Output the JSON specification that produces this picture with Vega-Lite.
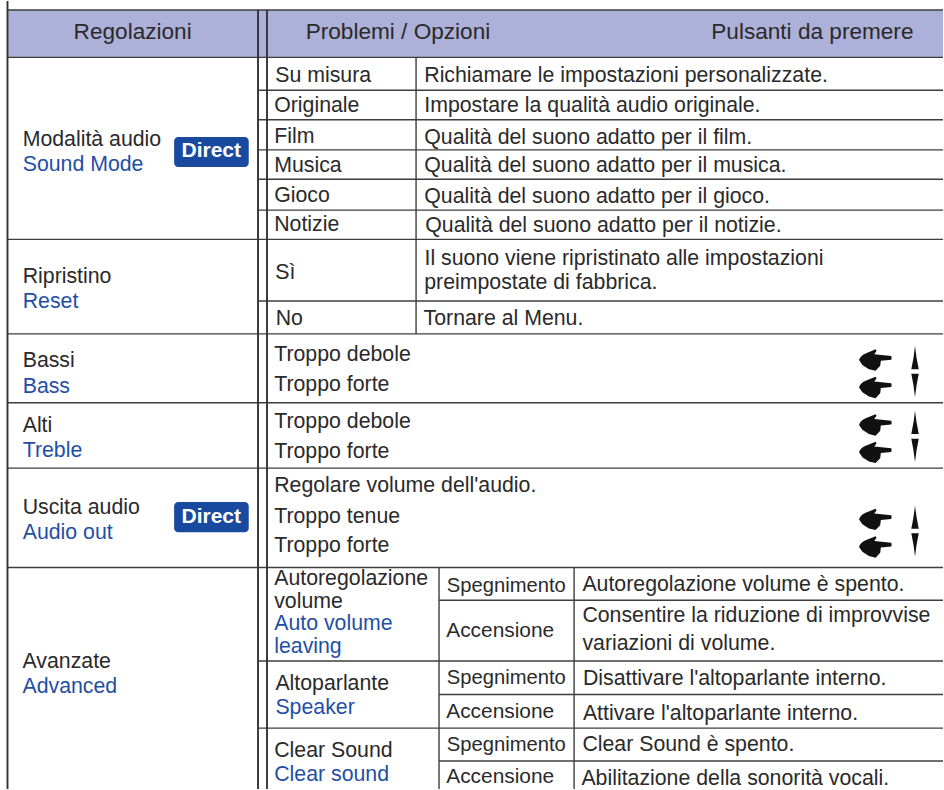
{"$schema":"https://vega.github.io/schema/vega-lite/v6.json","width":944,"height":790,"padding":0,"autosize":{"type":"fit","contains":"padding"},"background":"white","config":{"view":{"stroke":null}},
"datasets":{
"header":[{"x":7.5,"x2":944,"y":9,"y2":56.5}],
"badges":[{"x":174.3,"x2":249,"y":136.3,"y2":166.3},{"x":174.3,"x2":249,"y":502.3,"y2":532.7}],
"mainLines":[{"x":7.5,"x2":7.5,"y":0,"y2":790},{"x":258.3,"x2":258.3,"y":9,"y2":790},{"x":267.3,"x2":267.3,"y":9,"y2":790}],
"lines":[
{"x":416.5,"x2":416.5,"y":56.5,"y2":333.7},{"x":439.5,"x2":439.5,"y":568,"y2":790},{"x":574.7,"x2":574.7,"y":568,"y2":790},
{"x":7.5,"x2":944,"y":9,"y2":9},{"x":7.5,"x2":944,"y":56.5,"y2":56.5},{"x":258.3,"x2":944,"y":89.5,"y2":89.5},{"x":258.3,"x2":944,"y":119,"y2":119},{"x":258.3,"x2":944,"y":149.3,"y2":149.3},{"x":258.3,"x2":944,"y":178.7,"y2":178.7},{"x":258.3,"x2":944,"y":209.7,"y2":209.7},{"x":7.5,"x2":944,"y":239,"y2":239},{"x":258.3,"x2":944,"y":300.7,"y2":300.7},{"x":7.5,"x2":944,"y":333.7,"y2":333.7},{"x":7.5,"x2":944,"y":402.7,"y2":402.7},{"x":7.5,"x2":944,"y":468.3,"y2":468.3},{"x":7.5,"x2":944,"y":568,"y2":568},
{"x":439.5,"x2":944,"y":600.7,"y2":600.7},{"x":258.3,"x2":944,"y":661.7,"y2":661.7},{"x":439.5,"x2":944,"y":695.3,"y2":695.3},{"x":258.3,"x2":944,"y":729,"y2":729},{"x":439.5,"x2":944,"y":762,"y2":762}],
"heads":[{"x":73.7,"y":37.7,"text":"Regolazioni"},{"x":306,"y":37.7,"text":"Problemi / Opzioni"},{"x":712,"y":37.7,"text":"Pulsanti da premere"}],
"offOptions":[{"x":447.3,"y":592.7,"text":"Spegnimento"},{"x":447.3,"y":684.3,"text":"Spegnimento"},{"x":447.3,"y":752.3,"text":"Spegnimento"}],
"onOptions":[{"x":446.7,"y":637.3,"text":"Accensione"},{"x":446.7,"y":719.3,"text":"Accensione"},{"x":446.7,"y":784.3,"text":"Accensione"}],
"labels":[
{"x":22.7,"y":145.7,"text":"Modalità audio","kind":"it"},{"x":22.7,"y":170,"text":"Sound Mode","kind":"en"},{"x":22.7,"y":283,"text":"Ripristino","kind":"it"},{"x":22.7,"y":307.7,"text":"Reset","kind":"en"},{"x":22.7,"y":367.3,"text":"Bassi","kind":"it"},{"x":22.7,"y":392.7,"text":"Bass","kind":"en"},{"x":22.7,"y":431.7,"text":"Alti","kind":"it"},{"x":22.7,"y":456.7,"text":"Treble","kind":"en"},{"x":22.7,"y":514,"text":"Uscita audio","kind":"it"},{"x":22.7,"y":539,"text":"Audio out","kind":"en"},{"x":22.5,"y":669,"text":"Avanzate","kind":"it"},{"x":22.5,"y":694,"text":"Advanced","kind":"en"},
{"x":275.5,"y":81.7,"text":"Su misura","kind":"it"},{"x":274.5,"y":111.7,"text":"Originale","kind":"it"},{"x":274.5,"y":142.3,"text":"Film","kind":"it"},{"x":274.5,"y":171.3,"text":"Musica","kind":"it"},{"x":274.5,"y":202,"text":"Gioco","kind":"it"},{"x":274.5,"y":231,"text":"Notizie","kind":"it"},{"x":275.5,"y":278.7,"text":"Sì","kind":"it"},{"x":276,"y":325,"text":"No","kind":"it"},
{"x":424.7,"y":81.7,"text":"Richiamare le impostazioni personalizzate.","kind":"it"},{"x":424.7,"y":111,"text":"Impostare la qualità audio originale.","kind":"it"},{"x":424.7,"y":143,"text":"Qualità del suono adatto per il film.","kind":"it"},{"x":424.7,"y":171.7,"text":"Qualità del suono adatto per il musica.","kind":"it"},{"x":424.7,"y":203,"text":"Qualità del suono adatto per il gioco.","kind":"it"},{"x":425.7,"y":231.7,"text":"Qualità del suono adatto per il notizie.","kind":"it"},{"x":425,"y":264.3,"text":"Il suono viene ripristinato alle impostazioni","kind":"it"},{"x":424.7,"y":289,"text":"preimpostate di fabbrica.","kind":"it"},{"x":424,"y":325,"text":"Tornare al Menu.","kind":"it"},
{"x":274.5,"y":361,"text":"Troppo debole","kind":"it"},{"x":274.5,"y":391,"text":"Troppo forte","kind":"it"},{"x":274.5,"y":427.7,"text":"Troppo debole","kind":"it"},{"x":274.5,"y":457.7,"text":"Troppo forte","kind":"it"},{"x":274.5,"y":492,"text":"Regolare volume dell'audio.","kind":"it"},{"x":274.5,"y":523,"text":"Troppo tenue","kind":"it"},{"x":274.5,"y":552.7,"text":"Troppo forte","kind":"it"},
{"x":274.5,"y":585.3,"text":"Autoregolazione","kind":"it"},{"x":274.5,"y":609,"text":"volume","kind":"it"},{"x":274.5,"y":630.7,"text":"Auto volume","kind":"en"},{"x":274.5,"y":654,"text":"leaving","kind":"en"},{"x":275.7,"y":690.7,"text":"Altoparlante","kind":"it"},{"x":275.7,"y":714.7,"text":"Speaker","kind":"en"},{"x":274.5,"y":757.7,"text":"Clear Sound","kind":"it"},{"x":274.5,"y":781.7,"text":"Clear sound","kind":"en"},
{"x":583,"y":591.7,"text":"Autoregolazione volume è spento.","kind":"it"},{"x":583,"y":622.7,"text":"Consentire la riduzione di improvvise","kind":"it"},{"x":583,"y":650.7,"text":"variazioni di volume.","kind":"it"},{"x":583.5,"y":686,"text":"Disattivare l'altoparlante interno.","kind":"it"},{"x":583.5,"y":720.7,"text":"Attivare l'altoparlante interno.","kind":"it"},{"x":583,"y":752.3,"text":"Clear Sound è spento.","kind":"it"},{"x":582,"y":786,"text":"Abilitazione della sonorità vocali.","kind":"it"}],
"badgeText":[{"x":211.5,"y":156.7,"text":"Direct"},{"x":211.5,"y":523.7,"text":"Direct"}],
"hands":[{"x":876.5,"y":360},{"x":876.5,"y":387.4},{"x":876.5,"y":425},{"x":876.5,"y":452.5},{"x":876.5,"y":519.7},{"x":876.5,"y":547.3}],
"up":[{"x":916,"y":357.5},{"x":916,"y":422.5},{"x":916,"y":517.3}],
"down":[{"x":916,"y":385.3},{"x":916,"y":450.5},{"x":916,"y":545.3}]},
"encoding":{"x":{"field":"x","type":"quantitative","axis":null,"scale":{"domain":[0,944],"nice":false,"zero":false}},"y":{"field":"y","type":"quantitative","axis":null,"scale":{"domain":[790,0],"nice":false,"zero":false}}},
"layer":[
{"data":{"name":"header"},"mark":{"type":"rect","color":"#adb0d8"},"encoding":{"x2":{"field":"x2"},"y2":{"field":"y2"}}},
{"data":{"name":"lines"},"mark":{"type":"rule","color":"#3e3e3e","strokeWidth":1.4},"encoding":{"x2":{"field":"x2"},"y2":{"field":"y2"}}},
{"data":{"name":"mainLines"},"mark":{"type":"rule","color":"#333333","strokeWidth":1.9},"encoding":{"x2":{"field":"x2"},"y2":{"field":"y2"}}},
{"data":{"name":"badges"},"mark":{"type":"rect","color":"#1a4aa0","cornerRadius":4},"encoding":{"x2":{"field":"x2"},"y2":{"field":"y2"}}},
{"data":{"name":"heads"},"mark":{"type":"text","align":"left","baseline":"alphabetic","font":"Liberation Sans","fontSize":22.6,"color":"#2a2a2a"},"encoding":{"text":{"field":"text","type":"nominal"}}},
{"data":{"name":"offOptions"},"mark":{"type":"text","align":"left","baseline":"alphabetic","font":"Liberation Sans","fontSize":20.2,"color":"#2a2a2a"},"encoding":{"text":{"field":"text","type":"nominal"}}},
{"data":{"name":"onOptions"},"mark":{"type":"text","align":"left","baseline":"alphabetic","font":"Liberation Sans","fontSize":20.9,"color":"#2a2a2a"},"encoding":{"text":{"field":"text","type":"nominal"}}},
{"data":{"name":"labels"},"mark":{"type":"text","align":"left","baseline":"alphabetic","font":"Liberation Sans","fontSize":21.3},"encoding":{"text":{"field":"text","type":"nominal"},"color":{"field":"kind","type":"nominal","legend":null,"scale":{"domain":["it","en"],"range":["#2a2a2a","#1f4fa5"]}}}},
{"data":{"name":"badgeText"},"mark":{"type":"text","align":"center","baseline":"alphabetic","font":"Liberation Sans","fontWeight":"bold","fontSize":21,"color":"white"},"encoding":{"text":{"field":"text","type":"nominal"}}},
{"data":{"name":"hands"},"mark":{"type":"point","filled":true,"opacity":1,"color":"#111111","size":1089,"shape":"M -0.6 -0.4 L 0 -0.65 L 0.06 -0.55 L -0.08 -0.36 L 0.95 -0.25 Q 1 -0.12 0.95 -0.02 L 0.32 0.04 L 0.28 0.35 L 0 0.65 L -0.4 0.55 L -0.8 0.3 L -1 0 Q -0.95 -0.25 -0.6 -0.4 Z"}},
{"data":{"name":"up"},"mark":{"type":"point","filled":true,"opacity":1,"color":"#111111","size":544,"shape":"M 0 -1 Q 0.1 0 0.32 1 L -0.32 1 Q -0.1 0 0 -1 Z"}},
{"data":{"name":"down"},"mark":{"type":"point","filled":true,"opacity":1,"color":"#111111","size":544,"shape":"M 0 1 Q 0.1 0 0.32 -1 L -0.32 -1 Q -0.1 0 0 1 Z"}}
]}
